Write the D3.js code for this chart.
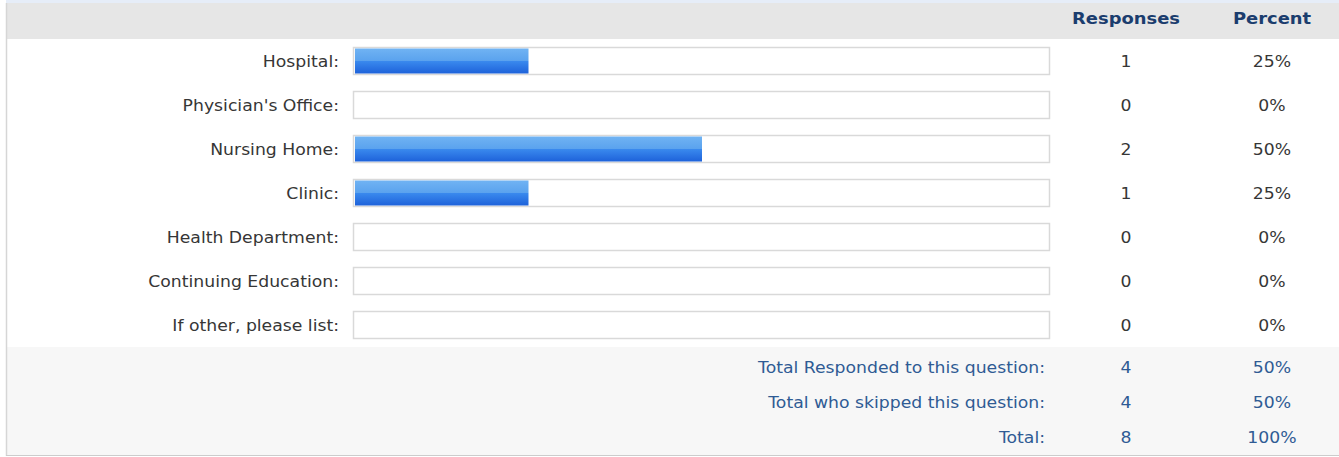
<meta charset="utf-8">
<script src="https://d3js.org/d3.v7.min.js"></script>
<style>
  body { margin: 0; background: #fff; }
  text { font-family: "DejaVu Sans", Verdana, sans-serif; }
  .lbl { font-size: 15px; fill: #363636; }
  .num { font-size: 15px; fill: #363636; }
  .head { font-size: 16px; font-weight: bold; fill: #1b3d6e; }
  .foot { font-size: 15px; fill: #2f5b94; }
  .box { fill: #fff; stroke: #d9d9d9; stroke-width: 1.5px; }
</style>
<body>
<script>
  var categories = ['Hospital:', "Physician's Office:", 'Nursing Home:', 'Clinic:',
    'Health Department:', 'Continuing Education:', 'If other, please list:'];
  var responses = [1, 0, 2, 1, 0, 0, 0];
  var percents = [25, 0, 50, 25, 0, 0, 0];

  var headers = ['Responses', 'Percent'];

  var footLabels = ['Total Responded to this question:', 'Total who skipped this question:', 'Total:'];
  var footCounts = [4, 4, 8];
  var footPercents = [50, 50, 100];

  var W = 1339, H = 457;
  // glyphs in the picture are a bit wider than DejaVu
  var sxHead = 1.12, sxBody = 1.15;

  var svg = d3.select('body').append('svg')
    .attr('width', W)
    .attr('height', H);

  var defs = svg.append('defs');
  var grad = defs.append('linearGradient')
    .attr('id', 'barfill')
    .attr('x1', 0).attr('y1', 0).attr('x2', 0).attr('y2', 1);
  [[0, '#70b3f3'], [0.5, '#5aa2ee'], [0.5, '#3a8aee'], [1, '#1e62da']].forEach(function(s){
    grad.append('stop').attr('offset', s[0]).attr('stop-color', s[1]);
  });

  // backgrounds
  svg.append('rect').attr('x', 6).attr('y', 0).attr('width', W - 6).attr('height', 3).attr('fill', '#e6edf8');
  svg.append('rect').attr('x', 6).attr('y', 3).attr('width', W - 6).attr('height', 36).attr('fill', '#e6e6e6');
  svg.append('rect').attr('x', 6).attr('y', 347).attr('width', W - 6).attr('height', 108).attr('fill', '#f7f7f7');
  svg.append('line').attr('x1', 6.5).attr('x2', 6.5).attr('y1', 3).attr('y2', 456)
    .attr('stroke', '#d6d6d6').attr('stroke-width', 1.5);
  svg.append('line').attr('x1', 6).attr('x2', W).attr('y1', 455.5).attr('y2', 455.5)
    .attr('stroke', '#cccccc').attr('stroke-width', 1);

  var y = d3.scaleBand().domain(categories).range([39, 347]);
  var yf = d3.scaleBand().domain(footLabels).range([349.5, 454.5]);
  var x = d3.scaleLinear().domain([0, 100]).range([0, 694]);
  var col = d3.scalePoint().domain(headers).range([1126, 1272]);

  var barX = 355, labelX = 339, boxH = 27;

  function putText(g, cls, tx, ty, anchor, str, sx) {
    g.append('g')
      .attr('transform', 'translate(' + tx + ',' + ty + ') scale(' + (sx || sxBody) + ',1)')
      .append('text')
      .attr('class', cls)
      .attr('text-anchor', anchor)
      .text(str);
  }

  // header
  headers.forEach(function(h){
    putText(svg, 'head', col(h), 24, 'middle', h, sxHead);
  });

  var rows = svg.selectAll('g.row').data(categories)
    .enter()
    .append('g')
    .attr('class', 'row')
    .attr('transform', function(d){ return 'translate(0,' + (y(d) + y.bandwidth() / 2) + ')'; });

  rows.each(function(d, i){
    var g = d3.select(this);
    putText(g, 'lbl', labelX, 5.5, 'end', d);
    g.append('rect')
      .attr('class', 'box')
      .attr('x', barX - 1.5)
      .attr('y', -boxH / 2)
      .attr('width', x(100) + 2)
      .attr('height', boxH);
    if (percents[i] > 0) {
      g.append('rect')
        .attr('x', barX)
        .attr('y', -boxH / 2 + 1)
        .attr('width', x(percents[i]))
        .attr('height', boxH - 2)
        .attr('fill', 'url(#barfill)');
    }
    putText(g, 'num', col('Responses'), 5.5, 'middle', responses[i]);
    putText(g, 'num', col('Percent'), 5.5, 'middle', percents[i] + '%');
  });

  var foot = svg.selectAll('g.footrow').data(footLabels)
    .enter()
    .append('g')
    .attr('class', 'footrow')
    .attr('transform', function(d){ return 'translate(0,' + (yf(d) + yf.bandwidth() / 2) + ')'; });

  foot.each(function(d, i){
    var g = d3.select(this);
    putText(g, 'foot', 1045, 5.5, 'end', d);
    putText(g, 'foot', col('Responses'), 5.5, 'middle', footCounts[i]);
    putText(g, 'foot', col('Percent'), 5.5, 'middle', footPercents[i] + '%');
  });
</script>
</body>
</html>
